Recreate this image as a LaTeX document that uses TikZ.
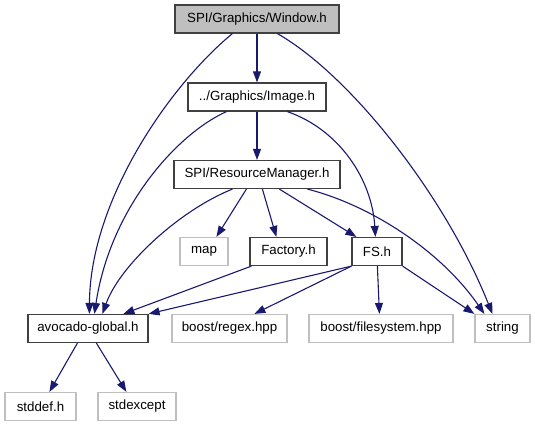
\documentclass[tikz,border=0pt]{standalone}
\usepackage{fontspec}
\setmainfont{Liberation Sans}
\usetikzlibrary{arrows.meta,calc}
\definecolor{edgeblue}{RGB}{25,25,112}
\definecolor{boxgray}{RGB}{191,191,191}
\definecolor{boxline}{RGB}{64,64,64}
\tikzset{
  incbox/.style={draw=boxline,line width=1.2bp,minimum height=28bp,inner sep=0pt,font=\fontsize{13.3bp}{16bp}\selectfont},
  sysbox/.style={incbox,draw=boxgray},
  curbox/.style={incbox,fill=boxgray},
  dep/.style={draw=edgeblue,line width=1.1bp,-{Triangle[length=11bp,width=8bp]}}
}
\begin{document}
\begin{tikzpicture}[x=1bp,y=-1bp]
    \useasboundingbox (0,0) rectangle (535,427);
    % files
    \node[curbox,minimum width=164bp] (win) at (257,19) {SPI/Graphics/Window.h};
    \node[incbox,minimum width=138bp] (img) at (257,97) {../Graphics/Image.h};
    \node[incbox,minimum width=166bp] (resmgr) at (257,174.5) {SPI/ResourceManager.h};
    \node[sysbox,minimum width=48bp] (map) at (204,251.5) {map};
    \node[incbox,minimum width=77bp] (factory) at (288.5,251.5) {Factory.h};
    \node[incbox,minimum width=50bp] (fs) at (377,251.5) {FS.h};
    \node[incbox,minimum width=120bp] (avoglobal) at (88,328.5) {avocado-global.h};
    \node[sysbox,minimum width=115bp] (regex) at (229.5,328.5) {boost/regex.hpp};
    \node[sysbox,minimum width=144bp] (filesystem) at (381,328.5) {boost/filesystem.hpp};
    \node[sysbox,minimum width=55bp] (string) at (502.5,328.5) {string};
    \node[sysbox,minimum width=71bp] (stddef) at (40.5,406.5) {stddef.h};
    \node[sysbox,minimum width=78bp] (stdexcept) at (137,406.5) {stdexcept};
    % includes of Window.h
    \draw[dep] (win) -- (img);
    \draw[dep] ($(win.south west)+(58,0)$) .. controls (170,85) and (90,200) .. ($(avoglobal.north west)+(62,0)$);
    \draw[dep] ($(win.south west)+(103,0)$) .. controls (350,75) and (445,195) .. ($(string.north west)+(18,0)$);
    % includes of Image.h
    \draw[dep] (img) -- (resmgr);
    \draw[dep] ($(img.south west)+(39,0)$) .. controls (175,135) and (110,210) .. ($(avoglobal.north west)+(67,0)$);
    \draw[dep] ($(img.south west)+(100,0)$) .. controls (340,130) and (372,180) .. ($(fs.north west)+(24,0)$);
    % includes of ResourceManager.h
    \draw[dep] ($(resmgr.south west)+(59,0)$) .. controls (180,210) and (120,265) .. ($(avoglobal.north west)+(75,0)$);
    \draw[dep] ($(resmgr.south west)+(73,0)$) -- ($(map.north west)+(37,0)$);
    \draw[dep] ($(resmgr.south west)+(89,0)$) -- ($(factory.north west)+(27,0)$);
    \draw[dep] ($(resmgr.south west)+(106,0)$) -- ($(fs.north west)+(5,0)$);
    \draw[dep] ($(resmgr.south west)+(134,0)$) .. controls (370,205) and (440,250) .. ($(string.north west)+(10,0)$);
    % includes of Factory.h and FS.h
    \draw[dep] ($(factory.south west)+(2,0)$) -- ($(avoglobal.north west)+(96,0)$);
    \draw[dep] (fs.south west) -- (avoglobal.north east);
    \draw[dep] (fs.south west) -- ($(regex.north west)+(83,0)$);
    \draw[dep] ($(fs.south west)+(26,0)$) -- ($(filesystem.north west)+(71,0)$);
    \draw[dep] (fs.south east) -- (string.north west);
    % includes of avocado-global.h
    \draw[dep] ($(avoglobal.south west)+(50,0)$) -- ($(stddef.north west)+(45,0)$);
    \draw[dep] ($(avoglobal.south west)+(69,0)$) -- ($(stdexcept.north west)+(29,0)$);
\end{tikzpicture}
\end{document}
